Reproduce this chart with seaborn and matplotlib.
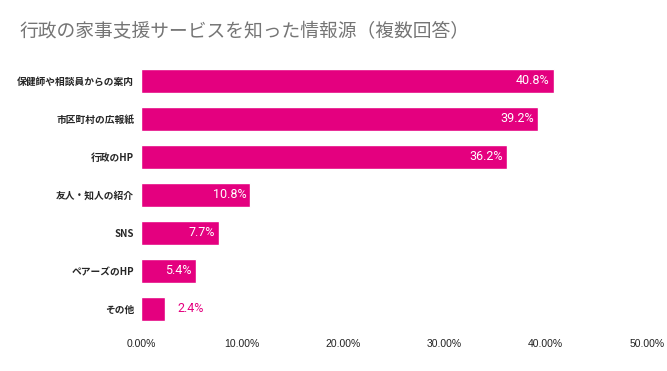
import matplotlib.pyplot as plt
import numpy as np
import pandas as pd
import seaborn as sns

sources = ['保健師や相談員からの案内', '市区町村の広報紙', '行政のHP', '友人・知人の紹介',
           'SNS', 'ペアーズのHP', 'その他']
shares = [40.8, 39.2, 36.2, 10.8, 7.7, 5.4, 2.4]
xticks = [0, 10, 20, 30, 40, 50]

pink = '#E4007F'
df = pd.DataFrame({'source': sources, 'share': shares})

sns.set_style('white')
plt.rcParams['font.family'] = ['Noto Sans CJK JP', 'DejaVu Sans']

fig = plt.figure(figsize=(6.67, 3.71), dpi=100)
ax = fig.add_axes([141 / 667, 1 - 328 / 371, (647 - 141) / 667, (328 - 62) / 371])

sns.barplot(data=df, x='share', y='source', orient='h', color=pink,
            saturation=1, width=0.63, ax=ax)

ax.set_xlim(0, 50)
ax.set_xticks(xticks)
ax.set_xticklabels([f'{t:.2f}%' for t in xticks], fontsize=7.5,
                   color='#222222', family=['Liberation Sans', 'DejaVu Sans'])
ax.tick_params(axis='x', length=0, pad=8)
ax.tick_params(axis='y', length=0, pad=5)
for lab in ax.get_yticklabels():
    lab.set_fontsize(7)
    lab.set_fontweight('bold')
ax.set_xlabel('')
ax.set_ylabel('')
sns.despine(ax=ax, left=True, bottom=True)

# value labels: white inside, pink outside for short bars
for i, v in enumerate(shares):
    if v > 4:
        ax.annotate(f'{v}%', (v, i), xytext=(-3, 0), textcoords='offset points',
                    ha='right', va='center', color='white', fontsize=9,
                    family=['Roboto', 'DejaVu Sans'])
    else:
        ax.annotate(f'{v}%', (v, i), xytext=(9, 0), textcoords='offset points',
                    ha='left', va='center', color=pink, fontsize=9,
                    family=['Roboto', 'DejaVu Sans'])

fig.text(20 / 667, 1 - 32 / 371, '行政の家事支援サービスを知った情報源（複数回答）',
         fontsize=13.5, color='#757575', va='center', ha='left')

fig.savefig('out.png', dpi=100)
